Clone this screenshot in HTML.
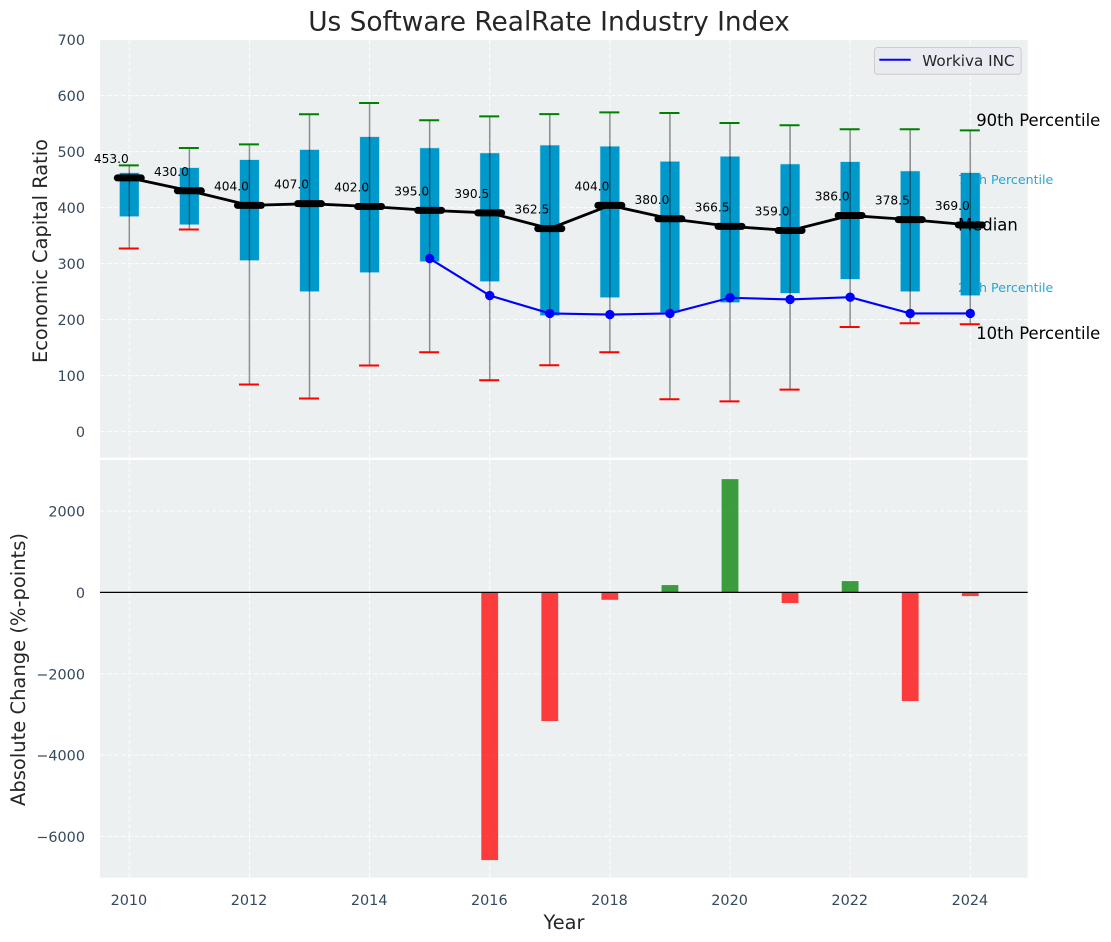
<!DOCTYPE html>
<html lang="en">
<head>
<meta charset="utf-8">
<title>Us Software RealRate Industry Index</title>
<style>
html,body{margin:0;padding:0;background:#fff;}
svg{display:block;font-family:"DejaVu Sans","Liberation Sans",sans-serif;}
</style>
</head>
<body>
<svg id="chart" width="1111" height="942" viewBox="0 0 1111 942" xmlns="http://www.w3.org/2000/svg">
  <rect x="0" y="0" width="1111" height="942" fill="#ffffff"/>
  <text x="549" y="30.5" font-size="26.4" fill="#262626" text-anchor="middle">Us Software RealRate Industry Index</text>

  <rect x="100" y="40" width="927.7" height="417.7" fill="#ecf0f1"/>
  <rect x="100" y="460" width="927.7" height="417.7" fill="#ecf0f1"/>
  <g id="grid"></g>
  <g id="tick-labels"></g>

  <g>
    <text x="976.2" y="126" font-size="16.45" fill="#000">90th Percentile</text>
    <text x="958" y="184" font-size="12.64" fill="#0099cc" fill-opacity="0.85">75th Percentile</text>
    <text x="958" y="292" font-size="12.64" fill="#0099cc" fill-opacity="0.85">25th Percentile</text>
    <text x="976.2" y="339" font-size="16.45" fill="#000">10th Percentile</text>
  </g>

  <g id="marks-boxes"></g>
  <text x="958" y="230.5" font-size="16.45" fill="#000">Median</text>
  <g id="marks-top"></g>
  <g id="marks-bottom"></g>

  <text transform="translate(47,251) rotate(-90)" font-size="19.4" fill="#262626" text-anchor="middle">Economic Capital Ratio</text>
  <text transform="translate(25,669.5) rotate(-90)" font-size="19.5" fill="#262626" text-anchor="middle">Absolute Change (%-points)</text>
  <text x="564" y="929" font-size="19.4" fill="#262626" text-anchor="middle">Year</text>

  <g>
    <rect x="874.5" y="47.5" width="146.7" height="26.8" rx="3" fill="#eaeaf2" stroke="#cccccc" stroke-width="1"/>
    <line x1="879.3" y1="59.8" x2="910.7" y2="59.8" stroke="#0000ff" stroke-width="2"/>
    <text x="922.3" y="65.8" font-size="15.2" fill="#262626">Workiva INC</text>
  </g>
</svg>
<script>
const years = [2010,2011,2012,2013,2014,2015,2016,2017,2018,2019,2020,2021,2022,2023,2024];
const p90 = [475.5,506.5,513,566.6,586.7,556,563,567,570,569,551,547,540,540,538];
const p75 = [461.8,470.7,485,503,526,506,497,511,509,482,491,477.3,481.4,464.8,461.8];
const medians = [453,430,404,407,402,395,390.5,362.5,404,380,366.5,359,386,378.5,369];
const p25 = [384.5,370,306,250.5,284.5,304,268.4,207.7,239.8,213,231,247.5,272.5,250.5,243.4];
const p10 = [327,361,84,59,118,141.6,91.6,118.4,141.6,57.8,54,75,186.8,193.4,191.6];
const companyYears = [2015,2016,2017,2018,2019,2020,2021,2022,2023,2024];
const companyValues = [309,243,211,209,211,239,236,240,211,211];
const changeYears = [2016,2017,2018,2019,2020,2021,2022,2023,2024];
const changeValues = [-6584,-3165,-182,180,2786,-263,278,-2673,-91];
const topTicks = [0,100,200,300,400,500,600,700];
const bottomTicks = [2000,0,-2000,-4000,-6000];
const xTicks = [2010,2012,2014,2016,2018,2020,2022,2024];

const SVGNS = 'http://www.w3.org/2000/svg';
function xAxis(year){ return 129.3 + (year - 2010) * 60.07; }
function yTop(v){ return 431.6 - v * 0.56; }
function yBottom(v){ return 592.4 - v * 0.04066; }
function make(tag, parent, attrs, text){
  const el = document.createElementNS(SVGNS, tag);
  for (const k in attrs) el.setAttribute(k, attrs[k]);
  if (text !== undefined) el.textContent = text;
  parent.appendChild(el);
  return el;
}
const grid = document.getElementById('grid');
const labels = document.getElementById('tick-labels');
const boxes_ = document.getElementById('marks-boxes');
const top_ = document.getElementById('marks-top');
const bottom_ = document.getElementById('marks-bottom');
const gridStyle = {stroke:'#ffffff','stroke-width':1,'stroke-dasharray':'4.5 2.5',fill:'none',opacity:0.9};

topTicks.forEach(function(t){
  const g = make('line', grid, Object.assign({x1:100,x2:1027.7,y1:yTop(t),y2:yTop(t)}, gridStyle));
  
  
  const l = make('text', labels, {x:85,y:yTop(t)+5.6,'font-size':14.4,fill:'#34495e','text-anchor':'end'}, String(t));
  
  
});
bottomTicks.forEach(function(t){
  const g = make('line', grid, Object.assign({x1:100,x2:1027.7,y1:yBottom(t),y2:yBottom(t)}, gridStyle));
  
  
  const l = make('text', labels, {x:85,y:yBottom(t)+5.6,'font-size':14.4,fill:'#34495e','text-anchor':'end'}, String(t).replace('-', '\u2212'));
  
  
});
xTicks.forEach(function(t){
  const a = make('line', grid, Object.assign({x1:xAxis(t),x2:xAxis(t),y1:40,y2:457.7}, gridStyle));
  
  
  const b = make('line', grid, Object.assign({x1:xAxis(t),x2:xAxis(t),y1:460,y2:877.7}, gridStyle));
  
  
  const l = make('text', labels, {x:xAxis(t)-0.4,y:905,'font-size':14.4,fill:'#34495e','text-anchor':'middle'}, String(t));
  
  
});

years.forEach(function(year, i){
  const x = xAxis(year);
  const box = make('rect', boxes_, {x:x-9.5,y:yTop(p75[i]),width:19,height:yTop(p25[i])-yTop(p75[i]),fill:'#0099cc',stroke:'#0099cc','stroke-opacity':0.25,'stroke-width':1});
  
  
  const whisker = make('line', boxes_, {x1:x,x2:x,y1:yTop(p90[i]),y2:yTop(p10[i]),stroke:'#000000','stroke-opacity':0.42,'stroke-width':1.5});
  
  
  const capHigh = make('line', boxes_, {x1:x-10.5,x2:x+9.5,y1:yTop(p90[i]),y2:yTop(p90[i]),stroke:'#008000','stroke-width':2});
  
  
  const capLow = make('line', boxes_, {x1:x-10.5,x2:x+9.5,y1:yTop(p10[i]),y2:yTop(p10[i]),stroke:'#ff0000','stroke-width':2});
  
  
});

const medianLine = make('polyline', top_, {points:years.map(function(y,i){return xAxis(y)+','+yTop(medians[i]);}).join(' '),fill:'none',stroke:'#000000','stroke-width':2.8});



years.forEach(function(year, i){
  const x = xAxis(year), y = yTop(medians[i]);
  const mark = make('line', top_, {x1:x-12,x2:x+12,y1:y,y2:y,stroke:'#000000','stroke-width':7,'stroke-linecap':'round'});
  
  
  const label = make('text', top_, {x:x-0.5,y:y-15,'font-size':12.2,fill:'#000000','text-anchor':'end'}, medians[i].toFixed(1));
  
  
});

const companyLine = make('polyline', top_, {points:companyYears.map(function(y,i){return xAxis(y)+','+yTop(companyValues[i]);}).join(' '),fill:'none',stroke:'#0000ff','stroke-width':2.1});


companyYears.forEach(function(year, i){
  const dot = make('circle', top_, {cx:xAxis(year),cy:yTop(companyValues[i]),r:4.7,fill:'#0000ff'});
  
  
});

changeYears.forEach(function(year, i){
  const v = changeValues[i];
  const y0 = yBottom(Math.max(v,0)), y1 = yBottom(Math.min(v,0));
  const bar = make('rect', bottom_, {x:xAxis(year)-8.4,y:y0,width:16.8,height:y1-y0,fill:v<0?'#ff0000':'#008000','fill-opacity':0.75});
  
  
});
const zero = make('line', bottom_, {x1:100,x2:1027.7,y1:yBottom(0),y2:yBottom(0),stroke:'#000000','stroke-width':1.3});


</script>
</body>
</html>
